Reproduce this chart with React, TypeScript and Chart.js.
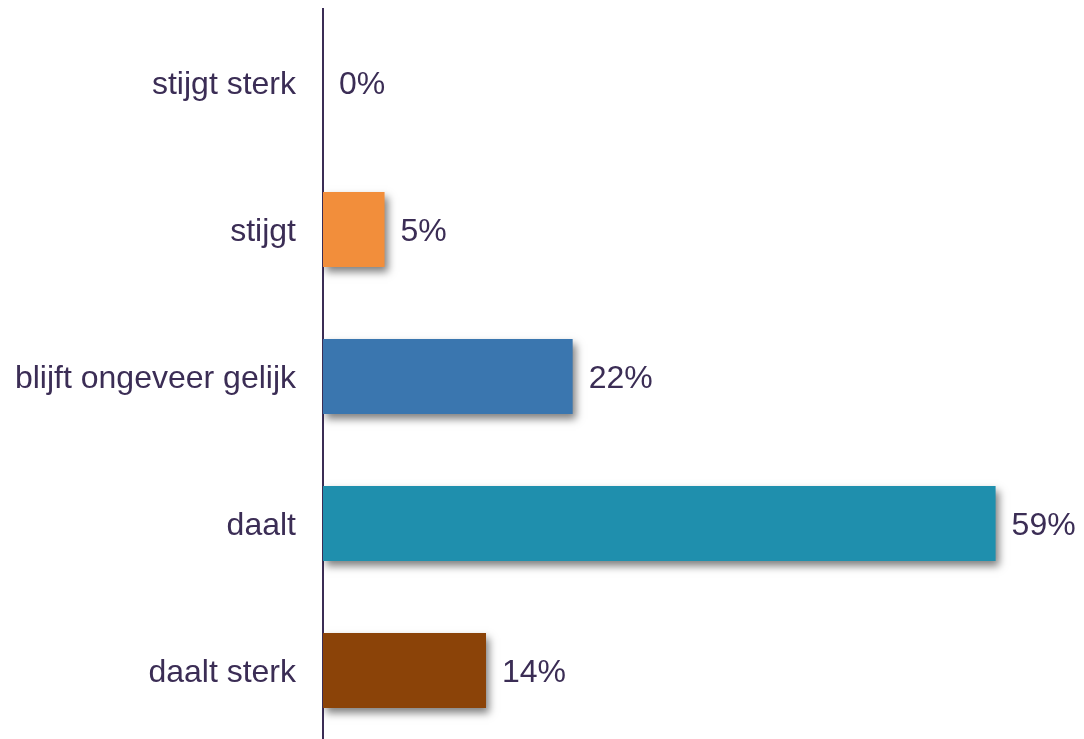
import React, { useEffect, useRef } from "react";
import { Chart, registerables } from "chart.js";

Chart.register(...registerables);

const categories = ["stijgt sterk", "stijgt", "blijft ongeveer gelijk", "daalt", "daalt sterk"];
const values = [0, 5.4, 21.9, 59.0, 14.3];
const barColors = ["#C0504D", "#F28E3B", "#3A76AF", "#1F8FAD", "#8B4308"];
const TEXT = "#3B2D55";
const FONT = "'Liberation Sans', Arial, sans-serif";
const TEXT_DY = 3;

const shadowPlugin = {
  id: "barShadow",
  beforeDatasetsDraw(chart: any) {
    const ctx = chart.ctx;
    ctx.save();
    ctx.shadowColor = "rgba(0,0,0,0.5)";
    ctx.shadowBlur = 8;
    ctx.shadowOffsetX = 3;
    ctx.shadowOffsetY = 5;
  },
  afterDatasetsDraw(chart: any) {
    const ctx = chart.ctx;
    ctx.restore();
    const meta = chart.getDatasetMeta(0);
    const yScale = chart.scales.y;
    ctx.save();
    ctx.font = `32px ${FONT}`;
    ctx.fillStyle = TEXT;
    ctx.textBaseline = "middle";
    // category labels
    ctx.textAlign = "right";
    (chart.data.labels as string[]).forEach((lab, i) => {
      ctx.fillText(lab, yScale.right - 27, yScale.getPixelForTick(i) + TEXT_DY);
    });
    // value labels
    ctx.textAlign = "left";
    meta.data.forEach((bar: any, i: number) => {
      const v = chart.data.datasets[0].data[i] as number;
      ctx.fillText(`${Math.round(v)}%`, bar.x + 16, bar.y + TEXT_DY);
    });
    ctx.restore();
  },
};

export default function App() {
  const ref = useRef<HTMLCanvasElement | null>(null);
  useEffect(() => {
    if (!ref.current) return;
    const chart = new Chart(ref.current, {
      type: "bar",
      data: {
        labels: categories,
        datasets: [
          {
            data: values,
            backgroundColor: barColors,
            borderWidth: 0,
            categoryPercentage: 1,
            barPercentage: 0.51,
          },
        ],
      },
      options: {
        indexAxis: "y",
        animation: false,
        responsive: false,
        devicePixelRatio: 1,
        layout: { padding: { top: 9, right: 20, bottom: 0, left: 0 } },
        plugins: { legend: { display: false }, tooltip: { enabled: false } },
        scales: {
          x: { display: false, min: 0, max: 65 },
          y: {
            grid: { display: false, drawTicks: false },
            border: { display: true, color: TEXT, width: 2 },
            ticks: { display: false },
            afterFit(scale: any) {
              scale.width = 323;
              scale.paddingTop = 0;
              scale.paddingBottom = 0;
            },
          },
        },
      },
      plugins: [shadowPlugin],
    });
    return () => chart.destroy();
  }, []);
  return (
    <div style={{ position: "fixed", left: 0, top: 0, width: 1084, height: 739, overflow: "hidden", background: "#fff" }}>
      <canvas ref={ref} width={1084} height={744} style={{ display: "block" }} />
    </div>
  );
}
